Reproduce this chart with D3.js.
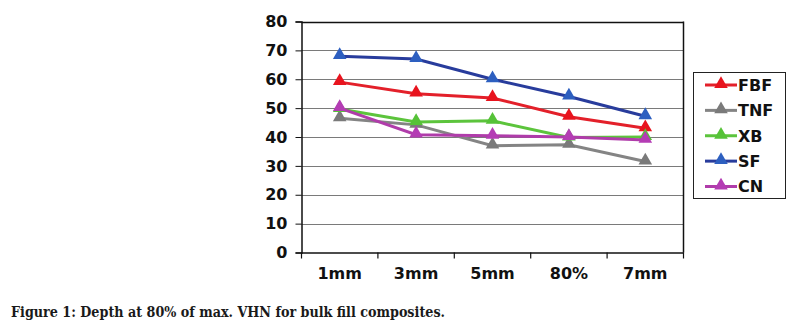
<!DOCTYPE html>
<html><head><meta charset="utf-8">
<script src="https://cdn.jsdelivr.net/npm/d3@7"></script>
<style>body{margin:0;background:#fff;}svg{display:block;}</style>
</head><body>
<script>
const categories = ["1mm","3mm","5mm","80%","7mm"];
const seriesNames = ["FBF","TNF","XB","SF","CN"];
const FBF = [59, 55, 53.5, 47, 43];
const TNF = [46.5, 44.2, 37, 37.3, 31.5];
const XB  = [49.7, 45.2, 45.6, 39.8, 40];
const SF  = [68, 67, 60, 54, 47.2];
const CN  = [50, 40.8, 40.4, 40, 39];
const yTicks = [0,10,20,30,40,50,60,70,80];
const colors = {FBF:"#e3202a", TNF:"#848484", XB:"#5cc43c", SF:"#283c9c", CN:"#b03caa"};
const markerColors = {FBF:"#e8141e", TNF:"#7a7a7a", XB:"#56c238", SF:"#2d5fc0", CN:"#b43cb4"};
const values = {FBF, TNF, XB, SF, CN};

const W = 797, H = 330;
const FONT = "DejaVu Sans, Verdana, sans-serif";
const svg = d3.select("body").append("svg").attr("width", W).attr("height", H);
const L = 301.5, R = 683.5, T = 21.5, B = 252.5;

const x = d3.scaleBand().domain(categories).range([L, R]);
const y = d3.scaleLinear().domain([0, 80]).range([B, T]);

// gridlines
svg.append("g").selectAll("line").data(yTicks.filter(d => d > 0)).join("line")
  .attr("x1", L).attr("x2", R)
  .attr("y1", d => Math.round(y(d)) + 0.5).attr("y2", d => Math.round(y(d)) + 0.5)
  .attr("stroke", d => d === 80 ? "#111" : "#7a7a7a").attr("stroke-width", d => d === 80 ? 1.5 : 1.2);

// right border
svg.append("line").attr("x1", R).attr("x2", R).attr("y1", T).attr("y2", B)
  .attr("stroke", "#111").attr("stroke-width", 1.5);

// y axis
const yAxis = d3.axisLeft(y).tickValues(yTicks).tickSize(6).tickPadding(8).tickFormat(d3.format("d"));
const gy = svg.append("g").attr("transform", `translate(${L},0)`).call(yAxis);
gy.select(".domain").attr("stroke", "#111").attr("stroke-width", 1.5);
gy.selectAll(".tick line").attr("stroke", "#111");
gy.selectAll("text").attr("font-family", FONT)
  .attr("font-size", "16px").attr("font-weight", "bold").attr("fill", "#111");

// x axis
const xAxis = d3.axisBottom(x).tickSize(0).tickPadding(15);
const gx = svg.append("g").attr("transform", `translate(0,${B})`).call(xAxis);
gx.select(".domain").attr("stroke", "#111").attr("stroke-width", 1.5);
gx.selectAll("text").attr("font-family", FONT)
  .attr("font-size", "16px").attr("font-weight", "bold").attr("fill", "#111");
// category boundary ticks
const bounds = categories.map(c => x(c)).concat([R]);
svg.append("g").selectAll("line").data(bounds).join("line")
  .attr("x1", d => d).attr("x2", d => d).attr("y1", B).attr("y2", B + 6)
  .attr("stroke", "#111").attr("stroke-width", 1.2);

const line = d3.line().x((d, i) => x(categories[i]) + x.bandwidth() / 2).y(d => y(d));
const tri = d3.symbol().type(d3.symbolTriangle).size(80);

seriesNames.forEach(name => {
  const g = svg.append("g");
  g.append("path").datum(values[name]).attr("d", line)
    .attr("fill", "none").attr("stroke", colors[name]).attr("stroke-width", 3);
  g.selectAll("path.m").data(values[name]).join("path").attr("class", "m")
    .attr("d", tri)
    .attr("transform", (d, i) => `translate(${x(categories[i]) + x.bandwidth() / 2},${y(d) - 1})`)
    .attr("fill", markerColors[name]);
});

// legend
const lg = svg.append("g");
lg.append("rect").attr("x", 693.5).attr("y", 72.5).attr("width", 92).attr("height", 126)
  .attr("fill", "#fff").attr("stroke", "#222").attr("stroke-width", 1);
const ly = d3.scalePoint().domain(seriesNames).range([85, 186.5]);
seriesNames.forEach(name => {
  const yy = ly(name);
  lg.append("line").attr("x1", 705).attr("x2", 737).attr("y1", yy).attr("y2", yy)
    .attr("stroke", colors[name]).attr("stroke-width", 3);
  lg.append("path").attr("d", tri).attr("transform", `translate(721,${yy - 1})`).attr("fill", markerColors[name]);
  lg.append("text").attr("x", 738).attr("y", yy).attr("dy", "0.36em")
    .attr("font-family", FONT).attr("font-size", "16px")
    .attr("font-weight", "bold").attr("fill", "#111").text(name);
});

// caption
svg.append("text").attr("x", 11).attr("y", 317)
  .attr("font-family", "DejaVu Serif, Liberation Serif, serif").attr("font-size", "14.5px")
  .attr("font-weight", "bold").attr("fill", "#1a1a1a")
  .attr("textLength", 434).attr("lengthAdjust", "spacingAndGlyphs")
  .text("Figure 1: Depth at 80% of max. VHN for bulk fill composites.");
</script>
</body></html>
